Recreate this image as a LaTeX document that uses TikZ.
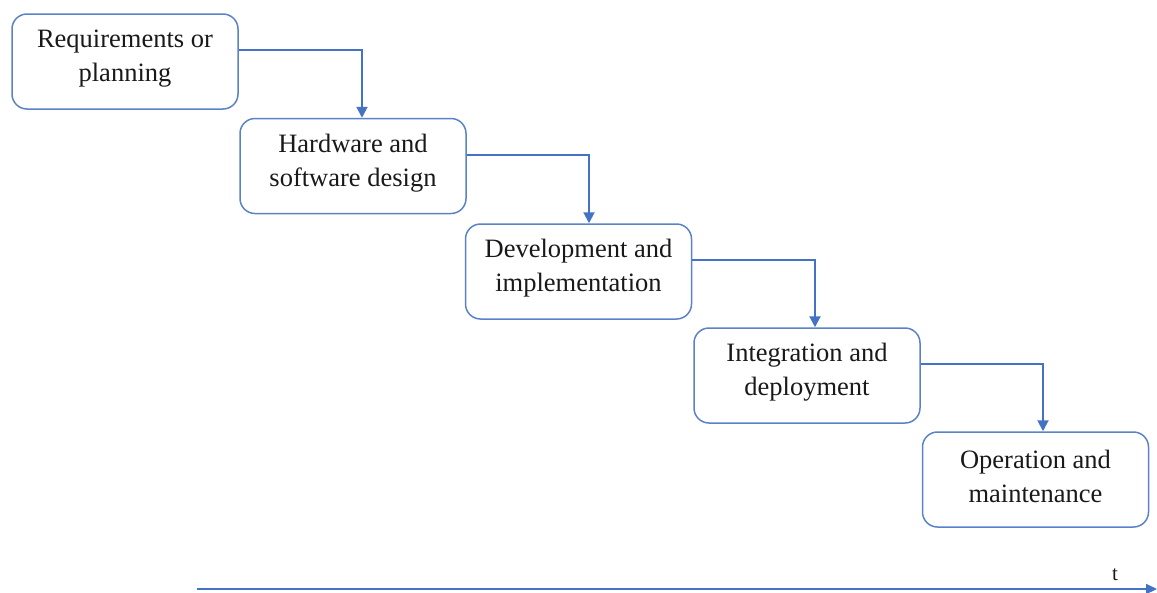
\documentclass[tikz,border=0pt]{standalone}
\usepackage{fontspec}
\setmainfont{Liberation Serif}
\usetikzlibrary{arrows.meta,calc}
\definecolor{stageblue}{HTML}{4472C4}
\definecolor{edgeblue}{HTML}{5B82C8}
\tikzset{
  stagebox/.style={draw=edgeblue, line width=1.5pt, rounded corners=15pt,
    minimum width=226pt, minimum height=95pt, inner sep=0pt,
    align=center, font=\fontsize{26.5}{34}\selectfont, text=black!90},
  steplabel/.style={yshift=3pt},
  flow/.style={draw=stageblue, line width=2pt, -{Triangle[length=11pt,width=11pt]}},
  timeaxis/.style={draw=stageblue, line width=2pt, -{Triangle[length=11pt,width=10pt]}}
}
\begin{document}
\begin{tikzpicture}[x=1pt,y=-1pt]
  \useasboundingbox (0,0) rectangle (1157,592);
  % the five stages of the waterfall
  \node[stagebox] (req) at (125,61.5) {};
  \node[stagebox] (hw)  at (353,166) {};
  \node[stagebox] (dev) at (578.5,271.5) {};
  \node[stagebox] (int) at (807,375.5) {};
  \node[stagebox] (op)  at (1035.5,479.5) {};
  \node[stagebox, draw=none, steplabel] (reqt) at (req) {Requirements or\\planning};
  \node[stagebox, draw=none, steplabel] (hwt)  at (hw)  {Hardware and\\software design};
  \node[stagebox, draw=none, steplabel] (devt) at (dev) {Development and\\implementation};
  \node[stagebox, draw=none, steplabel] (intt) at (int) {Integration and\\deployment};
  \node[stagebox, draw=none, steplabel] (opt)  at (op)  {Operation and\\maintenance};

  % hand-over from each stage to the next
  \draw[flow] ($(req.east)+(0,-11.5)$) -| ($(hw.north)+(9,0)$);
  \draw[flow] ($(hw.east)+(0,-11)$) -| ($(dev.north)+(10.5,0)$);
  \draw[flow] ($(dev.east)+(0,-12)$) -| ($(int.north)+(8,0)$);
  \draw[flow] ($(int.east)+(0,-12)$) -| ($(op.north)+(7.5,0)$);

  % time axis
  \coordinate (t0) at (197,589);
  \coordinate (t1) at (1157,589);
  \draw[timeaxis] (t0) -- (t1);
  \node[font=\fontsize{21}{24}\selectfont, text=black!90] (tlabel) at (1115,575) {t};
\end{tikzpicture}
\end{document}
